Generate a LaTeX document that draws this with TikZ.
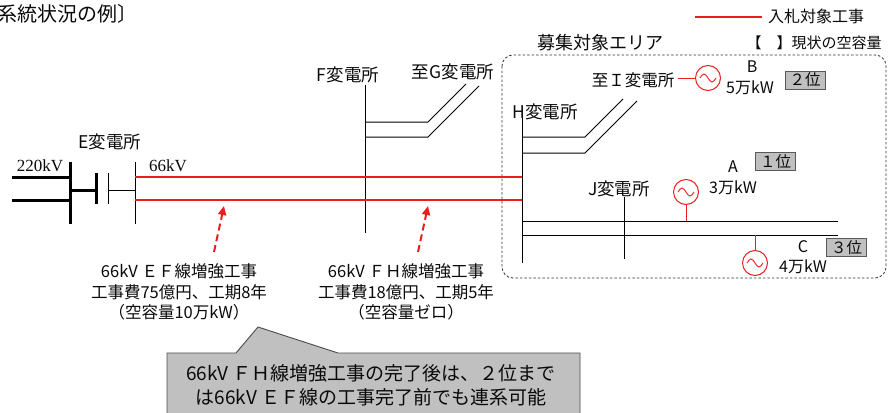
\documentclass[tikz,border=0pt]{standalone}
\usepackage{fontspec}
\setmainfont{Noto Sans CJK JP}
\newfontfamily\serifx{Liberation Serif}
\usetikzlibrary{arrows.meta}
\definecolor{redline}{RGB}{235,30,30}
\definecolor{boxgray}{RGB}{192,192,192}
\definecolor{txt}{RGB}{10,10,10}
\tikzset{
  lbl/.style={font=\fontsize{17.5}{19}\selectfont, inner sep=0pt, text=txt},
  sm/.style={font=\fontsize{16}{18}\selectfont, inner sep=0pt, text=txt},
  note/.style={font=\fontsize{16.5}{20.5}\selectfont, inner sep=0pt, align=center, text=txt},
  kv/.style={font=\serifx\fontsize{17}{18}\selectfont, inner sep=0pt, text=txt},
  bus/.style={line width=1pt, draw=black},
  hbus/.style={line width=3pt, draw=black},
  redl/.style={line width=1.2pt, draw=redline},
  gen/.style={circle, draw=redline, line width=1pt, minimum size=25pt, inner sep=0pt},
  tilde/.style={draw=redline, line width=0.9pt},
  rankbox/.style={draw=black!65, fill=boxgray, line width=0.8pt, font=\fontsize{15.5}{16}\selectfont, text=txt, inner sep=0pt, minimum width=40pt, minimum height=18pt},
  darrow/.style={draw=redline, line width=2pt, dash pattern=on 7pt off 4pt, -{Triangle[length=9pt,width=8pt]}},
  area/.style={draw=black!80, line width=0.8pt, dash pattern=on 2.5pt off 2pt, rounded corners=11pt},
  callout/.style={draw=black!70, fill=boxgray, line width=0.9pt},
}
\begin{document}
\begin{tikzpicture}[x=1pt,y=-1pt]
\useasboundingbox (0,0) rectangle (888,412);

% title and legend
\node[lbl, font=\fontsize{20}{21}\selectfont, anchor=west] (title) at (-3,14) {系統状況の例〕};
\coordinate (lg1) at (695,17);
\coordinate (lg2) at (762,17);
\draw[redl, line width=2pt] (lg1) -- (lg2);
\node[sm, anchor=west] (legend) at (768,16) {入札対象工事};
\node[lbl, font=\fontsize{18}{19}\selectfont] (area lbl) at (600,43) {募集対象エリア};
\node[sm, font=\fontsize{15}{16}\selectfont] (cap lbl) at (814,43) {【　】現状の空容量};

% recruitment area
\coordinate (ar1) at (502,55);
\coordinate (ar2) at (886,278);
\draw[area] (ar1) rectangle (ar2);

% E substation
\node[lbl] (Elbl) at (110,142) {E変電所};
\node[kv] (kv220) at (40,166) {220kV};
\node[kv] (kv66) at (168,166) {66kV};
\coordinate (Ein1a) at (12,177);  \coordinate (Ein1b) at (70,177);
\coordinate (Ein2a) at (12,200);  \coordinate (Ein2b) at (70,200);
\coordinate (Ebus1t) at (70,162); \coordinate (Ebus1b) at (70,224);
\coordinate (Etr1) at (70,190);   \coordinate (Etr2) at (96,190);
\coordinate (Etr3t) at (96,173);  \coordinate (Etr3b) at (96,204);
\coordinate (Etr4t) at (108,173); \coordinate (Etr4b) at (108,204);
\coordinate (Etr5) at (108,190);  \coordinate (Etr6) at (135,190);
\coordinate (Ebus2t) at (135,162); \coordinate (Ebus2b) at (135,224);
\draw[hbus] (Ein1a) -- (Ein1b);
\draw[hbus] (Ein2a) -- (Ein2b);
\draw[hbus] (Ebus1t) -- (Ebus1b);
\draw[hbus] (Etr1) -- (Etr2);
\draw[hbus] (Etr3t) -- (Etr3b);
\draw[bus] (Etr4t) -- (Etr4b);
\draw[bus] (Etr5) -- (Etr6);
\draw[bus] (Ebus2t) -- (Ebus2b);

% F substation
\node[lbl] (Flbl) at (348,75) {F変電所};
\node[lbl] (Glbl) at (453,72) {至G変電所};
\coordinate (Ft) at (365,85); \coordinate (Fb) at (365,233);
\draw[bus] (Ft) -- (Fb);
\coordinate (Fg1a) at (365,122); \coordinate (Fg1b) at (428,122); \coordinate (Fg1c) at (466,84);
\coordinate (Fg2a) at (365,137); \coordinate (Fg2b) at (428,137); \coordinate (Fg2c) at (479,86);
\draw[bus] (Fg1a) -- (Fg1b) -- (Fg1c);
\draw[bus] (Fg2a) -- (Fg2b) -- (Fg2c);

% H substation
\node[lbl] (Hlbl) at (545,112) {H変電所};
\node[lbl, font=\fontsize{16.5}{18}\selectfont] (Ilbl) at (633,80) {至Ｉ変電所};
\coordinate (Ht) at (522,118); \coordinate (Hb) at (522,263);
\draw[bus] (Ht) -- (Hb);
\coordinate (Hi1a) at (522,137); \coordinate (Hi1b) at (585,137); \coordinate (Hi1c) at (623,99);
\coordinate (Hi2a) at (522,153); \coordinate (Hi2b) at (585,153); \coordinate (Hi2c) at (637,101);
\draw[bus] (Hi1a) -- (Hi1b) -- (Hi1c);
\draw[bus] (Hi2a) -- (Hi2b) -- (Hi2c);

% 66kV lines E-F-H (tender work)
\coordinate (L1a) at (135,177); \coordinate (L1b) at (522,177);
\coordinate (L2a) at (135,200); \coordinate (L2b) at (522,200);
\draw[redl] (L1a) -- (L1b);
\draw[redl] (L2a) -- (L2b);

% J substation
\node[lbl] (Jlbl) at (619,189) {J変電所};
\coordinate (J1a) at (522,221); \coordinate (J1b) at (838,221);
\coordinate (J2a) at (522,235); \coordinate (J2b) at (838,235);
\coordinate (Jt) at (624,197);  \coordinate (Jb) at (624,259);
\draw[bus] (J1a) -- (J1b);
\draw[bus] (J2a) -- (J2b);
\draw[bus] (Jt) -- (Jb);

% generators
\node[gen] (gB) at (708,78) {};
\node[gen] (gA) at (686,192) {};
\node[gen] (gC) at (755,263) {};
\foreach \g in {gB,gA,gC}{
  \draw[tilde] ([xshift=-8pt]\g.center) sin ++(4,-4) cos ++(4,4) sin ++(4,4) cos ++(4,-4);
}
\coordinate (Iend) at (678,78);
\coordinate (gAbus) at (686,221);
\coordinate (gCbus) at (755,235);
\draw[redl, line width=1pt] (Iend) -- (gB.west);
\draw[redl, line width=1pt] (gA.south) -- (gAbus);
\draw[redl, line width=1pt] (gCbus) -- (gC.north);

\node[sm] (Blbl) at (752,67) {B};
\node[sm] (Bcap) at (750,88) {5万kW};
\node[sm] (Albl) at (733,167) {A};
\node[sm] (Acap) at (733,188) {3万kW};
\node[sm] (Clbl) at (803,247) {C};
\node[sm] (Ccap) at (803,267) {4万kW};

\node[rankbox] (r2) at (805,80) {２位};
\node[rankbox] (r1) at (775.5,161.5) {１位};
\node[rankbox] (r3) at (846.5,247.5) {３位};

% notes and arrows
\node[note] (nEF) at (179,292) {66kV ＥＦ線増強工事\\工事費75億円、工期8年\\（空容量10万kW）};
\node[note] (nFH) at (406,292) {66kV ＦＨ線増強工事\\工事費18億円、工期5年\\（空容量ゼロ）};
\coordinate (aEFs) at (214,252); \coordinate (aEFe) at (224,206);
\coordinate (aFHs) at (418,252); \coordinate (aFHe) at (428,206);
\draw[darrow] (aEFs) -- (aEFe);
\draw[darrow] (aFHs) -- (aFHe);

% callout
\coordinate (c1) at (167,353); \coordinate (c2) at (236,353); \coordinate (c3) at (258,327);
\coordinate (c4) at (338,353); \coordinate (c5) at (580,353); \coordinate (c6) at (580,420);
\coordinate (c7) at (167,420);
\draw[callout] (c1) -- (c2) -- (c3) -- (c4) -- (c5) -- (c6) -- (c7) -- cycle;
\node[note, font=\fontsize{19}{24}\selectfont] (cText) at (371,385) {66kV ＦＨ線増強工事の完了後は、２位まで\\は66kV ＥＦ線の工事完了前でも連系可能};
\end{tikzpicture}
\end{document}
